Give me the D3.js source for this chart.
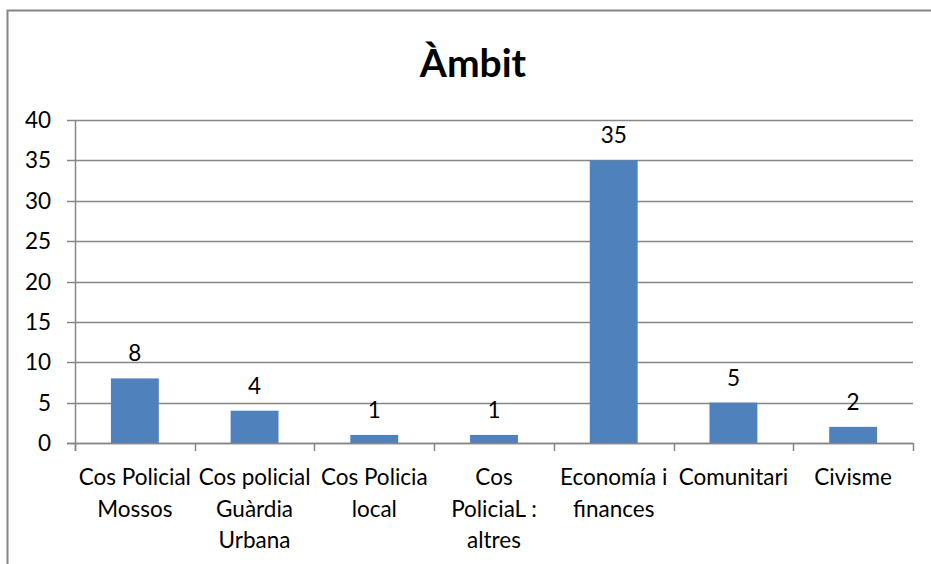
<!DOCTYPE html>
<html>
<head>
<meta charset="utf-8">
<script src="https://cdn.jsdelivr.net/npm/d3@7"></script>
<style>
  body { margin: 0; background: #fff; }
  text { font-family: Lato, 'Open Sans', sans-serif; fill: #000; }
</style>
</head>
<body>
<script>
// chart data
var categories = ['Cos Policial\nMossos', 'Cos policial\nGuàrdia\nUrbana', 'Cos Policia\nlocal', 'Cos\nPoliciaL :\naltres', 'Economía i\nfinances', 'Comunitari', 'Civisme'];
var values = [8, 4, 1, 1, 35, 5, 2];
var yTicks = [0, 5, 10, 15, 20, 25, 30, 35, 40];
var chartTitle = 'Àmbit';

var width = 931, height = 564;
var margin = { left: 75, right: 18, top: 120, bottom: 121 }; // plot area 75..913 x 120..443
var fs = 22.5; // label font size

var svg = d3.select('body').append('svg').attr('width', width).attr('height', height);

// outer chart frame (runs off the right and bottom edge like the original)
svg.append('rect')
    .attr('x', 7.5).attr('y', 10.5)
    .attr('width', 940).attr('height', 600)
    .attr('fill', 'none').attr('stroke', '#868686').attr('stroke-width', 2);

svg.append('text')
    .attr('x', 473).attr('y', 77)
    .attr('text-anchor', 'middle')
    .attr('font-size', 39).attr('font-weight', 'bold')
    .text(chartTitle);

var x = d3.scaleBand()
    .domain(categories)
    .range([margin.left, width - margin.right]);

var y = d3.scaleLinear()
    .domain([0, 40])
    .range([height - margin.bottom, margin.top]);

var g = svg.append('g');

// horizontal gridlines + left ticks
g.selectAll('.grid').data(yTicks).enter().append('line')
    .attr('x1', margin.left - 8).attr('x2', width - margin.right)
    .attr('y1', function (d) { return Math.round(y(d)) + 0.5; })
    .attr('y2', function (d) { return Math.round(y(d)) + 0.5; })
    .attr('stroke', '#868686').attr('stroke-width', 1.5);

g.selectAll('.ylab').data(yTicks).enter().append('text')
    .attr('x', 51).attr('y', function (d) { return y(d); })
    .attr('dy', '0.36em')
    .attr('text-anchor', 'end')
    .attr('font-size', fs)
    .text(function (d) { return d; });

// vertical axis line
g.append('line')
    .attr('x1', margin.left + 0.5).attr('x2', margin.left + 0.5)
    .attr('y1', y(40)).attr('y2', y(0) + 8)
    .attr('stroke', '#868686').attr('stroke-width', 1.5);

// category boundary ticks
var bounds = categories.map(function (c) { return x(c); }).concat([width - margin.right]);
g.selectAll('.xtick').data(bounds).enter().append('line')
    .attr('x1', function (d) { return Math.round(d) + 0.5; })
    .attr('x2', function (d) { return Math.round(d) + 0.5; })
    .attr('y1', y(0)).attr('y2', y(0) + 8)
    .attr('stroke', '#868686').attr('stroke-width', 1.5);

// bars
var barW = x.bandwidth() * 0.4;
g.selectAll('.bar').data(values).enter().append('rect')
    .attr('x', function (d, i) { return x(categories[i]) + (x.bandwidth() - barW) / 2; })
    .attr('y', function (d) { return y(d); })
    .attr('width', barW)
    .attr('height', function (d) { return y(0) - y(d); })
    .attr('fill', '#4F81BD');

// redraw baseline on top of bars
g.append('line')
    .attr('x1', margin.left - 8).attr('x2', width - margin.right)
    .attr('y1', Math.round(y(0)) + 0.5).attr('y2', Math.round(y(0)) + 0.5)
    .attr('stroke', '#868686').attr('stroke-width', 1.5);

// value labels
g.selectAll('.val').data(values).enter().append('text')
    .attr('x', function (d, i) { return x(categories[i]) + x.bandwidth() / 2; })
    .attr('y', function (d) { return y(d) - 17; })
    .attr('text-anchor', 'middle')
    .attr('font-size', fs)
    .text(function (d) { return d; });

// category labels, one tspan per line
var cl = g.selectAll('.cat').data(categories).enter().append('text')
    .attr('text-anchor', 'middle')
    .attr('font-size', fs);
cl.each(function (c) {
    var t = d3.select(this);
    c.split('\n').forEach(function (line, k) {
        t.append('tspan')
            .attr('x', x(c) + x.bandwidth() / 2)
            .attr('y', 485 + k * 31.5)
            .text(line);
    });
});
</script>
</body>
</html>
